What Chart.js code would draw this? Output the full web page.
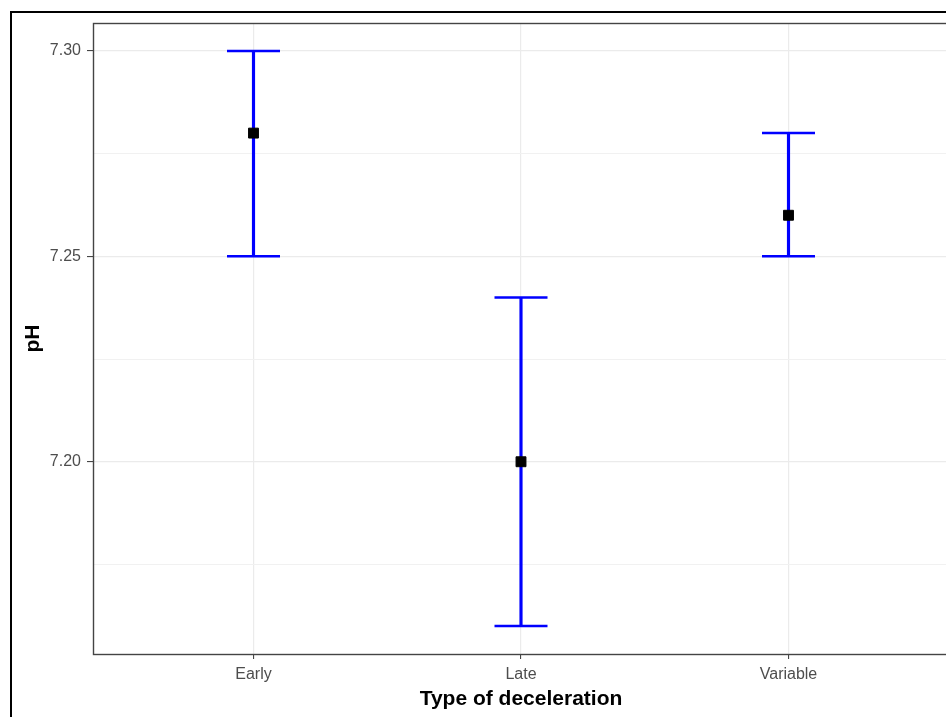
<!DOCTYPE html>
<html>
<head>
<meta charset="utf-8">
<script src="https://cdn.jsdelivr.net/npm/chart.js@4"></script>
<style>
html, body { margin:0; padding:0; background:#fff; overflow:hidden; }
#wrap { position:relative; width:946px; height:717px; overflow:hidden; background:#fff; }
#frame { position:absolute; left:10px; top:11px; width:1000px; height:800px; border-left:2px solid #000; border-top:2px solid #000; pointer-events:none; }
canvas { position:absolute; left:0; top:0; }
</style>
</head>
<body>
<div id="wrap">
<canvas id="myChart" width="960" height="717"></canvas>
<div id="frame"></div>
</div>
<script>
var categories = ['Early', 'Late', 'Variable']
var phMean = [7.28, 7.20, 7.26]
var phLow = [7.25, 7.16, 7.25]
var phHigh = [7.30, 7.24, 7.28]
var yMajorTicks = [7.20, 7.25, 7.30]
var yTickLabels = ['7.20', '7.25', '7.30']
var yMinorTicks = [7.175, 7.225, 7.275]

function isMajor(v){
    for (var i = 0; i < yMajorTicks.length; i++) {
        if (Math.abs(yMajorTicks[i] - v) < 1e-6) return i
    }
    return -1
}

var meanPts = [], lowPts = [], highPts = [], bars = []
categories.forEach(function(c, i){
    meanPts.push({x: i, y: phMean[i]})
    lowPts.push({x: i, y: phLow[i]})
    highPts.push({x: i, y: phHigh[i]})
    bars.push({x: i, y: [phLow[i], phHigh[i]]})
})

// panel border round the plotting area (theme_bw look)
var panelBorder = {
    id: 'panelBorder',
    afterDraw: function(chart){
        var a = chart.chartArea, ctx = chart.ctx
        ctx.save()
        ctx.strokeStyle = '#444444'
        ctx.lineWidth = 1.4
        ctx.strokeRect(a.left + 0.5, a.top + 0.5, a.right - a.left, a.bottom - a.top)
        ctx.restore()
    }
}

function noPad(s){
    s.paddingTop = 0
    s.paddingBottom = 0
    s.paddingLeft = 0
    s.paddingRight = 0
}

var fontFam = "'Liberation Sans', Arial, sans-serif"

var myChart = document.getElementById('myChart').getContext('2d')
var chart = new Chart(myChart, {
    type: 'bar',
    data: {
        datasets: [
            {
                type: 'scatter',
                data: meanPts,
                pointStyle: 'rect',
                pointRadius: 7,
                pointBackgroundColor: '#000000',
                pointBorderColor: '#000000',
                pointBorderWidth: 1
            },
            {
                type: 'scatter',
                data: highPts,
                pointStyle: 'line',
                pointRadius: 26.5,
                pointBorderColor: '#0000ff',
                pointBorderWidth: 2.5
            },
            {
                type: 'scatter',
                data: lowPts,
                pointStyle: 'line',
                pointRadius: 26.5,
                pointBorderColor: '#0000ff',
                pointBorderWidth: 2.5
            },
            {
                type: 'bar',
                data: bars,
                backgroundColor: '#0000ff',
                borderWidth: 0,
                barThickness: 2.5
            }
        ]
    },
    options: {
        responsive: false,
        animation: false,
        events: [],
        devicePixelRatio: 1,
        layout: { autoPadding: false, padding: { left: 0, top: 23, right: 11, bottom: 0 } },
        plugins: { legend: { display: false }, tooltip: { enabled: false } },
        scales: {
            x: {
                type: 'linear',
                min: -0.6,
                max: 2.6,
                offset: false,
                afterFit: function(s){ s.height = 63; noPad(s) },
                afterBuildTicks: function(s){
                    s.ticks = categories.map(function(c, i){ return {value: i} })
                },
                border: { display: false },
                grid: {
                    offset: false,
                    color: '#ebebeb',
                    lineWidth: 1.2,
                    tickColor: '#333333',
                    tickLength: 5,
                    tickWidth: 1
                },
                ticks: {
                    autoSkip: false,
                    maxRotation: 0,
                    padding: 6,
                    color: '#4d4d4d',
                    font: { family: fontFam, size: 16 },
                    callback: function(v){ return categories[v] }
                },
                title: {
                    display: true,
                    text: 'Type of deceleration',
                    color: '#000000',
                    font: { family: fontFam, size: 21, weight: 'bold' },
                    padding: { top: 0, bottom: 5 }
                }
            },
            y: {
                type: 'linear',
                min: 7.1532,
                max: 7.3068,
                afterFit: function(s){ s.width = 93; noPad(s) },
                afterBuildTicks: function(s){
                    s.ticks = yMinorTicks.concat(yMajorTicks).sort().map(function(v){ return {value: v} })
                },
                border: { display: false },
                grid: {
                    color: function(ctx){ return isMajor(ctx.tick.value) >= 0 ? '#ebebeb' : '#f1f1f1' },
                    lineWidth: function(ctx){ return isMajor(ctx.tick.value) >= 0 ? 1.2 : 1 },
                    tickColor: function(ctx){ return isMajor(ctx.tick.value) >= 0 ? '#333333' : 'rgba(0,0,0,0)' },
                    tickLength: 6,
                    tickWidth: 1
                },
                ticks: {
                    autoSkip: false,
                    padding: 6,
                    color: '#4d4d4d',
                    font: { family: fontFam, size: 16 },
                    callback: function(v){
                        var k = isMajor(v)
                        return k >= 0 ? yTickLabels[k] : ''
                    }
                },
                title: {
                    display: true,
                    text: 'pH',
                    color: '#000000',
                    font: { family: fontFam, size: 21, weight: 'bold' },
                    padding: { top: 21, bottom: 0 }
                }
            }
        }
    },
    plugins: [panelBorder]
})
</script>
</body>
</html>
